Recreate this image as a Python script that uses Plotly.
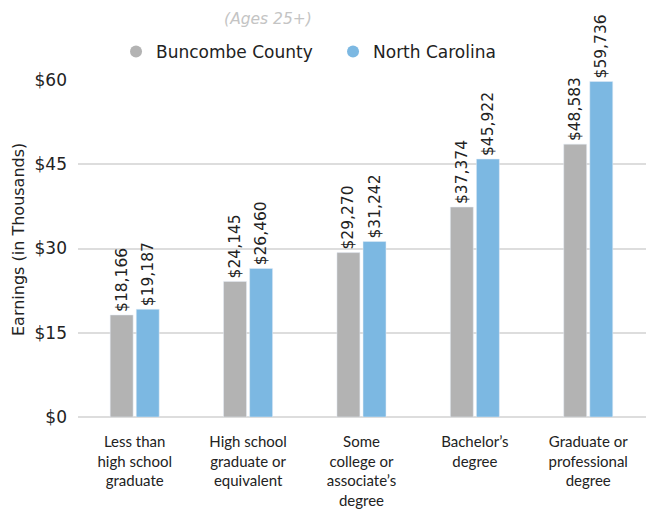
import plotly.graph_objects as go

categories = ["Less than<br>high school<br>graduate", "High school<br>graduate or<br>equivalent",
              "Some<br>college or<br>associate’s<br>degree", "Bachelor’s<br>degree",
              "Graduate or<br>professional<br>degree"]
buncombe = [18.166, 24.145, 29.270, 37.374, 48.583]
nc = [19.187, 26.460, 31.242, 45.922, 59.736]
buncombe_labels = ["$18,166", "$24,145", "$29,270", "$37,374", "$48,583"]
nc_labels = ["$19,187", "$26,460", "$31,242", "$45,922", "$59,736"]
tick_vals = [0, 15, 30, 45, 60]
tick_text = ["$0", "$15", "$30", "$45", "$60"]

GRAY = "#b3b3b3"
BLUE = "#7cb8e2"
WIDE = "DejaVu Sans"
NARROW = "Lato"
TXT = "#222222"

fig = go.Figure()
fig.add_trace(go.Bar(x=categories, y=buncombe, name="Buncombe County", marker_color=GRAY,
                     text=buncombe_labels, textposition="outside", textangle=-90,
                     constraintext="none",
                     textfont=dict(size=15.5, color=TXT, family=WIDE), cliponaxis=False,
                     showlegend=False))
fig.add_trace(go.Bar(x=categories, y=nc, name="North Carolina", marker_color=BLUE,
                     text=nc_labels, textposition="outside", textangle=-90,
                     constraintext="none",
                     textfont=dict(size=15.5, color=TXT, family=WIDE), cliponaxis=False,
                     showlegend=False))
fig.add_trace(go.Scatter(x=[None], y=[None], mode="markers", name="Buncombe County",
                         marker=dict(color=GRAY, size=12, symbol="circle")))
fig.add_trace(go.Scatter(x=[None], y=[None], mode="markers", name="North Carolina",
                         marker=dict(color=BLUE, size=12, symbol="circle")))

fig.update_layout(
    width=654, height=512,
    margin=dict(l=70, r=8, t=72, b=103),
    paper_bgcolor="white", plot_bgcolor="white",
    font=dict(family=WIDE, color=TXT, size=15),
    barmode="group", bargap=0.54, bargroupgap=0.12,
    title=dict(text="<i>(Ages 25+)</i>", x=260/654, xanchor="center", y=1 - 11/512, yanchor="middle",
               font=dict(size=15.5, color="#c4c4c4", family=WIDE)),
    legend=dict(orientation="h", x=0.066, xanchor="left", y=1.083, yanchor="middle",
                font=dict(size=17, color=TXT, family=WIDE), itemsizing="constant",
                traceorder="normal", itemwidth=30, entrywidth=172),
    showlegend=True,
    annotations=[dict(text="Earnings (in Thousands)", textangle=-90, showarrow=False,
                      xref="paper", yref="paper", x=-(78 - 18) / 576, y=(417 - 240) / 337,
                      xanchor="center", yanchor="middle",
                      font=dict(size=16, color=TXT, family=WIDE))],
)
fig.update_xaxes(range=[-0.5, 4.58], showgrid=False, showline=False, ticks="",
                 ticklabelstandoff=14, automargin=False,
                 tickfont=dict(size=15, color=TXT, family=NARROW))
fig.update_yaxes(range=[0, 60], tickvals=tick_vals, ticktext=tick_text, showgrid=True,
                 gridcolor="#dddddd", gridwidth=1.5, zeroline=True, zerolinecolor="#dddddd",
                 zerolinewidth=1.5, showline=False, ticks="", ticklabelstandoff=10,
                 automargin=False,
                 tickfont=dict(size=17, color=TXT, family=WIDE))

fig.write_html("out.html")
